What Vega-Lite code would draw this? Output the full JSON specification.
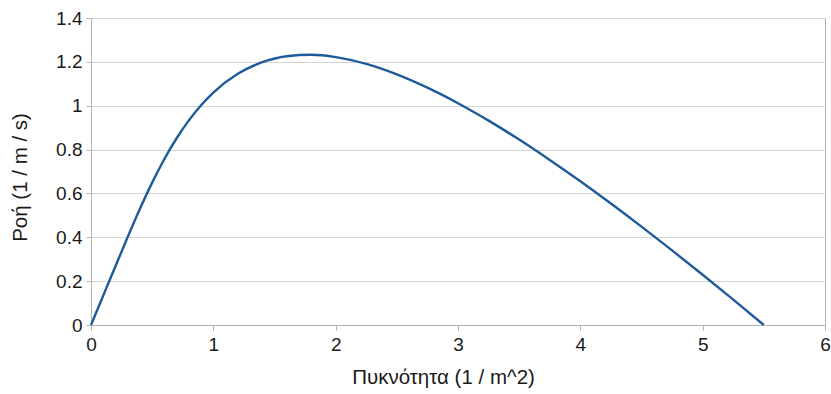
{
  "$schema": "https://vega.github.io/schema/vega-lite/v6.json",
  "width": 734,
  "height": 307,
  "autosize": "none",
  "padding": {"left": 91, "top": 18, "right": 6, "bottom": 69},
  "background": "white",
  "config": {
    "font": "Liberation Sans",
    "view": {"stroke": "#b3b3b3", "strokeWidth": 1}
  },
  "data": {
    "values": [
      {"d": 0, "q": 0},
      {"d": 0.05, "q": 0.067},
      {"d": 0.1, "q": 0.134},
      {"d": 0.2, "q": 0.268},
      {"d": 0.3, "q": 0.401},
      {"d": 0.4, "q": 0.5296},
      {"d": 0.5, "q": 0.6493},
      {"d": 0.6, "q": 0.757},
      {"d": 0.7, "q": 0.8516},
      {"d": 0.8, "q": 0.933},
      {"d": 0.9, "q": 1.0022},
      {"d": 1.0, "q": 1.0598},
      {"d": 1.2, "q": 1.1455},
      {"d": 1.4, "q": 1.1985},
      {"d": 1.6, "q": 1.2257},
      {"d": 1.8, "q": 1.2321},
      {"d": 2.0, "q": 1.2218},
      {"d": 2.25, "q": 1.1907},
      {"d": 2.5, "q": 1.143},
      {"d": 2.75, "q": 1.0823},
      {"d": 3.0, "q": 1.0114},
      {"d": 3.25, "q": 0.932},
      {"d": 3.5, "q": 0.8456},
      {"d": 3.75, "q": 0.7527},
      {"d": 4.0, "q": 0.6555},
      {"d": 4.25, "q": 0.5537},
      {"d": 4.5, "q": 0.4485},
      {"d": 4.75, "q": 0.3401},
      {"d": 5.0, "q": 0.229},
      {"d": 5.25, "q": 0.1156},
      {"d": 5.5, "q": 0}
    ]
  },
  "mark": {"type": "line", "color": "#1f5b98", "strokeWidth": 2.4, "interpolate": "monotone"},
  "encoding": {
    "x": {
      "field": "d", "type": "quantitative",
      "scale": {"domain": [0, 6], "nice": false, "zero": true},
      "axis": {
        "title": "Πυκνότητα (1 / m^2)",
        "values": [0, 1, 2, 3, 4, 5, 6],
        "format": "d",
        "grid": false,
        "labelFlush": false,
        "labelOverlap": false,
        "domainColor": "#b3b3b3",
        "tickColor": "#b3b3b3",
        "tickSize": 5,
        "labelPadding": 5,
        "labelFontSize": 19,
        "labelColor": "#1a1a1a",
        "titleFontSize": 20.5,
        "titleFontWeight": "normal",
        "titleColor": "#1a1a1a",
        "titlePadding": 13,
        "titleX": 352
      }
    },
    "y": {
      "field": "q", "type": "quantitative",
      "scale": {"domain": [0, 1.4], "nice": false},
      "axis": {
        "title": "Ροή (1 / m / s)",
        "values": [0, 0.2, 0.4, 0.6, 0.8, 1, 1.2, 1.4],
        "format": "~g",
        "labelFlush": false,
        "labelOverlap": false,
        "gridColor": "#d4d4d4",
        "domainColor": "#b3b3b3",
        "tickColor": "#b3b3b3",
        "tickSize": 5,
        "labelPadding": 4,
        "labelFontSize": 19,
        "labelColor": "#1a1a1a",
        "titleFontSize": 20.5,
        "titleFontWeight": "normal",
        "titleColor": "#1a1a1a",
        "titlePadding": 25,
        "titleY": 159
      }
    }
  }
}
